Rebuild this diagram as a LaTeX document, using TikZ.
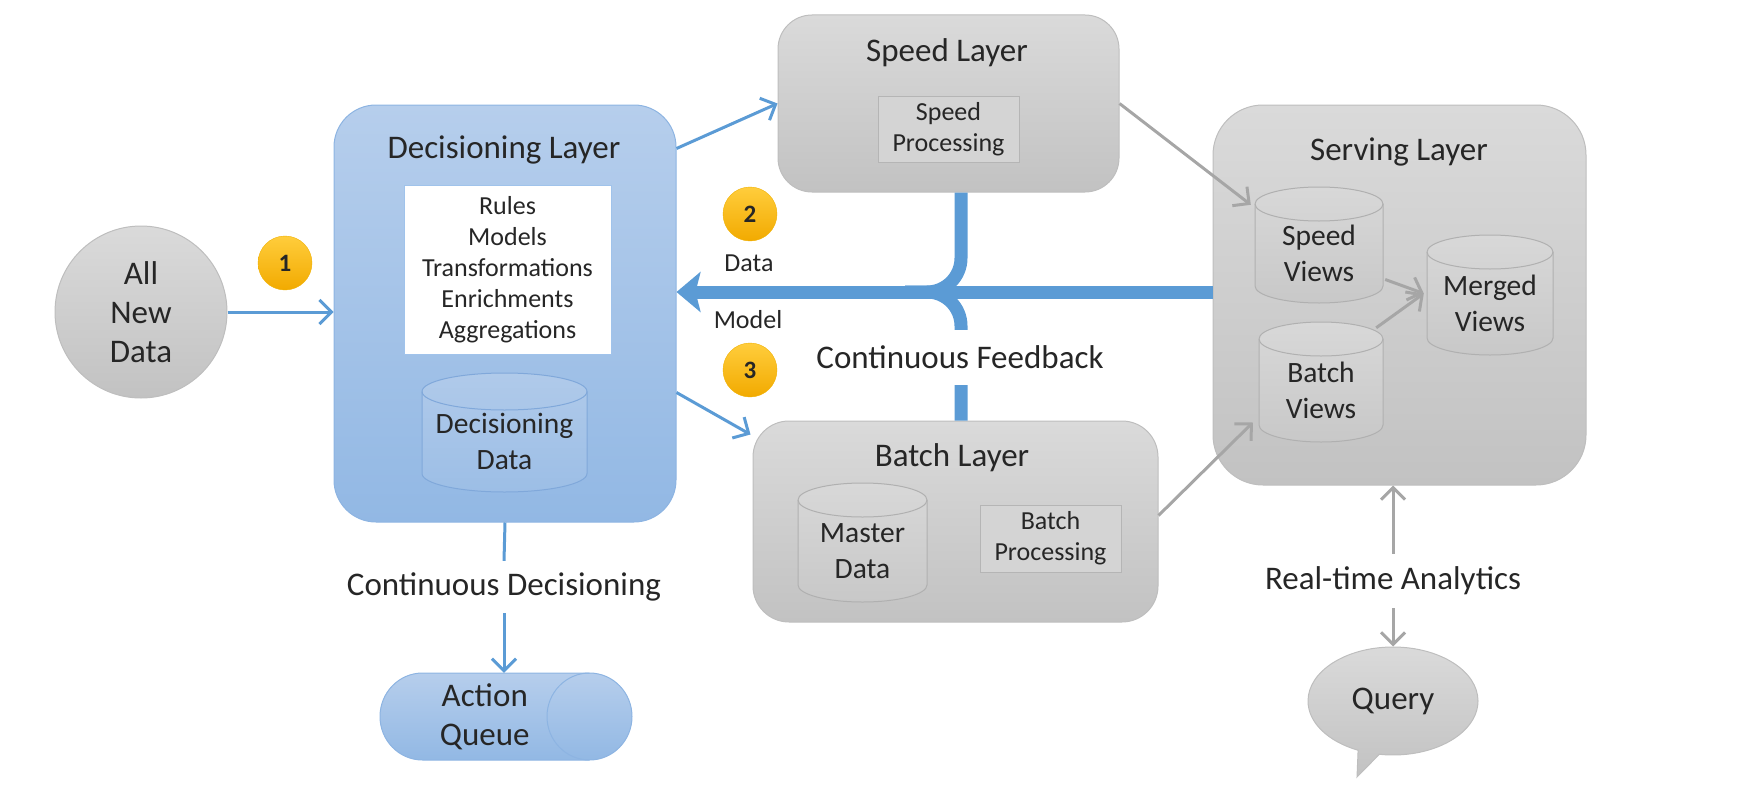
\documentclass[tikz,border=0pt]{standalone}
\usepackage{fontspec}
\setmainfont{Carlito}
\usetikzlibrary{shapes.geometric,shapes.callouts,arrows.meta,calc}

\definecolor{inkc}{RGB}{38,38,38}
\definecolor{blueline}{RGB}{141,180,226}
\definecolor{bluetop}{RGB}{182,206,236}
\definecolor{bluebot}{RGB}{146,184,228}
\definecolor{bluecanline}{RGB}{128,168,218}
\definecolor{bluecantop}{RGB}{176,202,234}
\definecolor{bluecanbot}{RGB}{156,190,230}
\definecolor{grayline}{RGB}{190,190,190}
\definecolor{graytop}{RGB}{218,218,218}
\definecolor{graybot}{RGB}{194,194,194}
\definecolor{grayfcanline}{RGB}{176,176,176}
\definecolor{grayfcantop}{RGB}{216,216,216}
\definecolor{grayfcanbot}{RGB}{200,200,200}
\definecolor{arrowblue}{RGB}{91,155,213}
\definecolor{arrowgray}{RGB}{166,166,166}

\tikzset{
  ink/.style={text=inkc},
  bigtxt/.style={ink,font=\fontsize{33}{39}\selectfont,align=center},
  midtxt/.style={ink,font=\fontsize{29.5}{36}\selectfont,align=center},
  smalltxt/.style={ink,font=\fontsize{26}{31}\selectfont,align=center},
  graybox/.style={draw=grayline,line width=1,top color=graytop,bottom color=graybot},
  bluebox/.style={draw=blueline,line width=1,top color=bluetop,bottom color=bluebot},
  procbox/.style={draw={rgb,255:red,181;green,181;blue,181},fill={rgb,255:red,212;green,212;blue,212},smalltxt,inner sep=0},
  badge/.style={circle,minimum size=54,inner sep=0,draw={rgb,255:red,240;green,176;blue,0},top color={rgb,255:red,255;green,205;blue,60},bottom color={rgb,255:red,242;green,170;blue,0},ink,font=\bfseries\fontsize{25}{30}\selectfont},
  bluearrow/.style={draw=arrowblue,line width=3,-{Straight Barb[length=12pt,width=24pt]}},
  grayarrow/.style={draw=arrowgray,line width=3,-{Straight Barb[length=12pt,width=24pt]}},
  feedback/.style={draw=arrowblue,line width=13},
}

% can: name, centre of body, width, body height, cap radius, colour prefix, text
\newcommand{\dbcan}[7]{%
  \begin{scope}[shift={(#2)}]
    \path[draw=#6line,line width=1,top color=#6top,bottom color=#6bot] (-#3/2,-#4/2) -- (-#3/2,#4/2-#5) arc[start angle=180,end angle=0,x radius=#3/2,y radius=#5] -- (#3/2,-#4/2) arc[start angle=0,end angle=-180,x radius=#3/2,y radius=#5] -- cycle;
    \draw[draw=#6line,line width=1] (-#3/2,-#4/2) arc[start angle=180,end angle=0,x radius=#3/2,y radius=#5];
  \end{scope}
  \node[midtxt,inner sep=0,minimum width=#3,minimum height=#4] (#1) at (#2) {#7};
}

\begin{document}
\begin{tikzpicture}[x=1pt,y=1pt,yscale=-1,xscale=1]
\useasboundingbox (0,0) rectangle (1750,800);

%Shape: Circle
\node[graybox,circle,minimum size=172,inner sep=0,bigtxt] (newdata) at (141,312) {All\\New\\Data};

%Shape: Rounded Rect -- decisioning layer
\node[bluebox,rounded corners=42,minimum width=342,minimum height=417] (dec) at (505,313.5) {};
\node[bigtxt] (dectitle) at (504,150) {Decisioning Layer};
\node[fill=white,draw={rgb,255:red,160;green,195;blue,235},minimum width=207,minimum height=169,inner sep=0,smalltxt] (logic) at (507.5,269.5) {Rules\\Models\\Transformations\\Enrichments\\Aggregations};
\dbcan{decdata}{504.5,441.75}{165}{100.5}{18.5}{bluecan}{Decisioning\\Data}

%Shape: Can -- action queue
\draw[draw=blueline,line width=1,top color=bluetop,bottom color=bluebot] (422.5,673) -- (589.5,673) arc[start angle=-90,end angle=90,x radius=42.5,y radius=43.5] -- (422.5,760) arc[start angle=90,end angle=270,x radius=42.5,y radius=43.5] -- cycle;
\draw[draw=blueline,line width=1] (589.5,673) arc[start angle=-90,end angle=-270,x radius=42.5,y radius=43.5];
\node[bigtxt,inner sep=0,minimum width=209.5,minimum height=87] (queue) at (484.75,716.5) {Action\\Queue};

%Shape: Rounded Rect -- speed layer
\node[graybox,rounded corners=34,minimum width=341,minimum height=177] (speed) at (948.5,103.5) {};
\node[bigtxt] (speedtitle) at (947,53) {Speed Layer};
\node[procbox,minimum width=141,minimum height=66] (speedproc) at (948.5,129) {Speed\\Processing};

%Shape: Rounded Rect -- batch layer
\node[graybox,rounded corners=36,minimum width=405,minimum height=201] (batch) at (955.5,521.5) {};
\node[bigtxt] (batchtitle) at (952,458) {Batch Layer};
\dbcan{master}{862.5,551}{129}{102}{17}{grayfcan}{Master\\Data}
\node[procbox,minimum width=141,minimum height=67] (batchproc) at (1050.5,538.5) {Batch\\Processing};

%Shape: Rounded Rect -- serving layer
\node[graybox,rounded corners=50,minimum width=373,minimum height=380] (serving) at (1399.5,295) {};
\node[bigtxt] (servtitle) at (1399,152) {Serving Layer};
\dbcan{speedviews}{1319,253.5}{128}{99}{17}{grayfcan}{Speed\\Views}
\dbcan{merged}{1490,303.5}{126}{103}{17}{grayfcan}{Merged\\Views}
\dbcan{batchviews}{1321,390.5}{124}{103}{17}{grayfcan}{Batch\\Views}

%Shape: Callout
\node[graybox,ellipse callout,callout absolute pointer={(1357,777)},minimum width=170,minimum height=108,inner sep=0,bigtxt] (query) at (1393,701) {Query};

% Text Node
\node[bigtxt,minimum height=52,inner sep=0] (contdec) at (504,587) {Continuous Decisioning};
% Text Node
\node[bigtxt,minimum height=54,inner sep=0] (rta) at (1393,581) {Real-time Analytics};
% Text Node
\node[smalltxt] (datalbl) at (749,263) {Data};
% Text Node
\node[smalltxt] (modellbl) at (748,320) {Model};

%Badges
\node[badge] (one) at (285,263) {1};
\node[badge] (two) at (750,214) {2};
\node[badge] (three) at (750,370) {3};

%Straight Lines
\draw[bluearrow] (newdata.east) -- (dec.west |- newdata.east);
\draw[bluearrow] ($(dec.east)+(0,-165)$) -- (speed.west);
\draw[bluearrow] ($(dec.east)+(0,79)$) -- ($(batch.north west)+(-2,14)$);
\draw[bluearrow,-] (dec.south) -- (contdec.north);
\draw[bluearrow] (contdec.south) -- (contdec.south |- queue.north);

%Feedback
\coordinate (fbx) at (961,292);
\coordinate (fbjoin) at (905,292);
\draw[feedback,rounded corners=34] (speed.south -| fbx) |- (fbjoin);
\draw[feedback,rounded corners=34] (batch.north -| fbx) |- (fbjoin);
\draw[feedback,-{Stealth[length=24pt,width=40pt,inset=5pt]}] (serving.west |- fbx) -- (dec.east |- fbx);
% Text Node
\node[bigtxt,fill=white,minimum height=55,inner sep=0] (contfb) at (960,357.5) {Continuous Feedback};

%Gray lines
\draw[grayarrow] (speed.east) -- ($(speedviews.north west)+(-4,1)$);
\draw[grayarrow] ($(batch.east)+(0,-6)$) -- ($(batchviews.west)+(-6,32)$);
\draw[grayarrow] ($(speedviews.east)+(2,26)$) -- ($(merged.west)+(-3,-10)$);
\draw[grayarrow] ($(batchviews.north east)+(-7,-11)$) -- ($(merged.west)+(-3,-10)$);
\draw[grayarrow] (rta.north) -- (rta.north |- serving.south);
\draw[grayarrow] (rta.south) -- (rta.south |- query.north);

\end{tikzpicture}
\end{document}
